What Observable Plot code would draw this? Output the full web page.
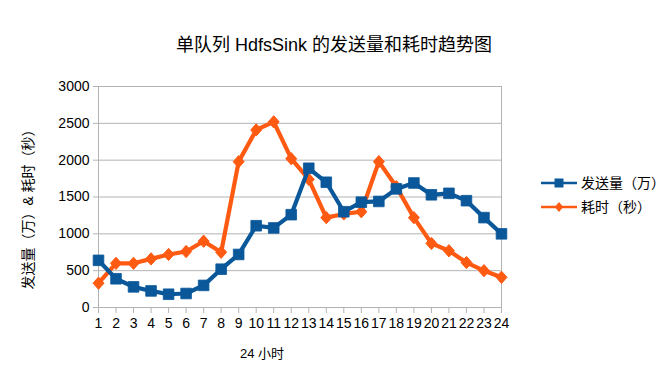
<!DOCTYPE html>
<html><head><meta charset="utf-8">
<script src="https://cdn.jsdelivr.net/npm/d3@7"></script>
<script src="https://cdn.jsdelivr.net/npm/@observablehq/plot@0.6"></script>
<style>
body{margin:0;background:#fff;font-family:"Liberation Sans","Noto Sans CJK SC",sans-serif;}
#wrap{position:relative;width:672px;height:371px;}
#legend{position:absolute;left:541px;top:171px;font-size:14px;color:#000;line-height:24px;}
#legend .item{display:flex;align-items:center;height:24px;}
#legend svg{margin-right:4px;}
</style></head>
<body><div id="wrap"><div id="chart"></div><div id="legend"></div></div>
<script>
const hours = [1,2,3,4,5,6,7,8,9,10,11,12,13,14,15,16,17,18,19,20,21,22,23,24];
const sendVolume = [640,390,280,225,180,190,300,520,720,1110,1080,1260,1890,1700,1300,1430,1440,1610,1690,1530,1550,1450,1220,1000];
const elapsed = [330,600,600,660,720,760,900,750,1980,2410,2520,2020,1740,1220,1270,1300,1980,1640,1220,870,770,610,500,410];
const yTicks = [0,500,1000,1500,2000,2500,3000];
const seriesNames = ["发送量（万）","耗时（秒）"];
const colors = ["#0a589a","#ff5a12"];
const titleText = "单队列 HdfsSink 的发送量和耗时趋势图";
const xLabel = "24 小时";
const yLabel = "发送量（万）& 耗时（秒）";

const rows = [];
hours.forEach((h,i)=>{
  rows.push({hour:h, value:sendVolume[i], series:seriesNames[0]});
  rows.push({hour:h, value:elapsed[i], series:seriesNames[1]});
});
const a = rows.filter(d=>d.series===seriesNames[0]);
const b = rows.filter(d=>d.series===seriesNames[1]);
const font = "Liberation Sans, Noto Sans CJK SC, sans-serif";

const diamondSym = {
  draw(ctx, size){
    const r = Math.sqrt(size/Math.PI);
    const hx = r, hy = r*1.12;
    ctx.moveTo(0,-hy); ctx.lineTo(hx,0); ctx.lineTo(0,hy); ctx.lineTo(-hx,0); ctx.closePath();
  }
};

const chart = Plot.plot({
  width:672, height:371,
  marginLeft:98, marginRight:171, marginTop:86, marginBottom:64,
  style:{fontFamily:font, fontSize:"14px", color:"#000", background:"#fff"},
  x:{domain:[1,24]},
  y:{domain:[0,3000]},
  marks:[
    Plot.gridY(yTicks,{stroke:"#b3b3b3", strokeOpacity:1}),
    Plot.frame({stroke:"#b3b3b3"}),
    Plot.axisY({ticks:yTicks, tickSize:5, tickPadding:4, tickFormat:d=>String(d), stroke:"#b3b3b3", label:null, fontSize:14, fill:"#000"}),
    Plot.axisX({ticks:hours, tickSize:6, tickPadding:5, tickFormat:d=>String(d), stroke:"#b3b3b3", label:null, fontSize:14, fill:"#000"}),
    Plot.line(b,{x:"hour", y:"value", stroke:colors[1], strokeWidth:4.2}),
    Plot.dot(b,{x:"hour", y:"value", symbol:diamondSym, r:5.5, fill:colors[1], stroke:colors[1], strokeWidth:1}),
    Plot.line(a,{x:"hour", y:"value", stroke:colors[0], strokeWidth:4.2}),
    Plot.dot(a,{x:"hour", y:"value", symbol:"square", r:6, fill:colors[0], stroke:colors[0], strokeWidth:0.8}),
    Plot.text([titleText],{frameAnchor:"top", dx:34, dy:-48, fontSize:18, fill:"#000", fontFamily:font}),
    Plot.text([xLabel],{frameAnchor:"bottom", dx:-38, dy:50, fontSize:13, fill:"#000", fontFamily:font}),
    Plot.text([yLabel],{frameAnchor:"left", textAnchor:"middle", rotate:-90, dx:-70, dy:9, fontSize:14, fill:"#000", fontFamily:font})
  ]
});
document.getElementById("chart").appendChild(chart);

const leg = document.getElementById("legend");
seriesNames.forEach((n,i)=>{
  const it = document.createElement("div"); it.className="item";
  const s = d3.create("svg").attr("width",36).attr("height",14);
  s.append("line").attr("x1",0).attr("x2",36).attr("y1",7).attr("y2",7).attr("stroke",colors[i]).attr("stroke-width",2.5);
  s.append("path").attr("transform","translate(18,7)")
    .attr("d", i===0 ? "M-4.5,-4.5h9v9h-9z" : "M0,-5L4.2,0L0,5L-4.2,0Z")
    .attr("fill",colors[i]);
  it.appendChild(s.node());
  const t = document.createElement("span"); t.textContent=n; it.appendChild(t);
  leg.appendChild(it);
});
</script></body></html>
